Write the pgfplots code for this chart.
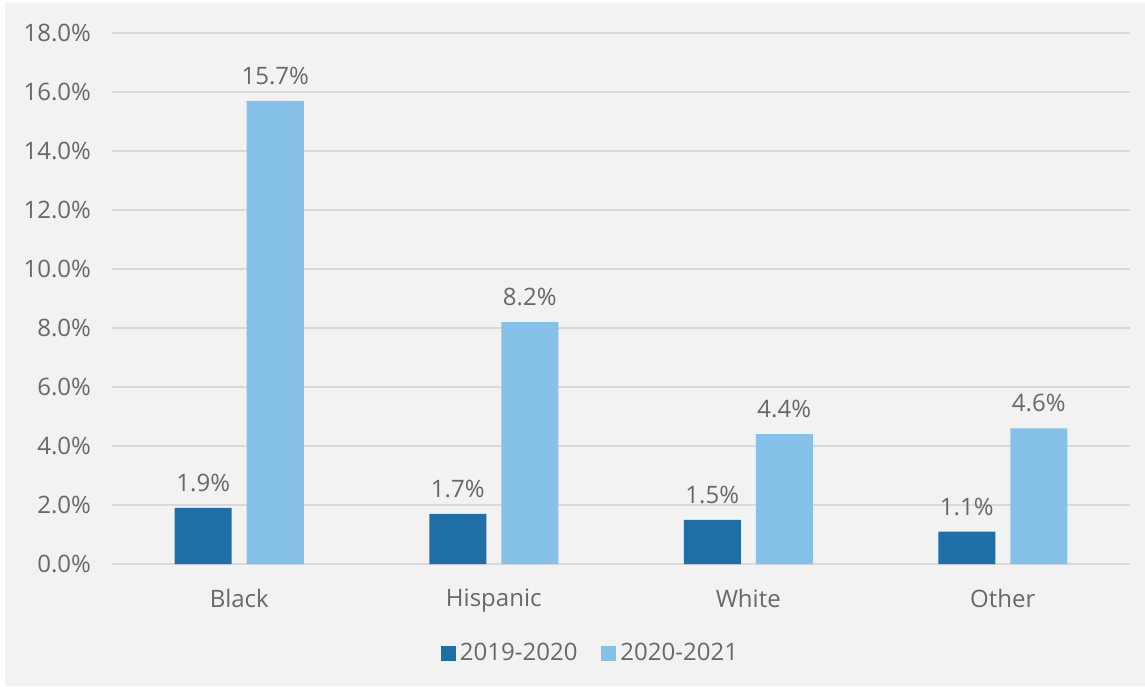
\documentclass[border=0pt]{standalone}
\usepackage{pgfplots}
\pgfplotsset{compat=1.18}
\usepackage{fontspec}
\setmainfont{Open Sans}
\definecolor{bggray}{HTML}{F2F2F2}
\definecolor{gridgray}{HTML}{D9D9D9}
\definecolor{txtgray}{HTML}{686868}
\definecolor{darkblue}{HTML}{1F6FA7}
\definecolor{lightblue}{HTML}{86C1E9}
\begin{document}
\begin{tikzpicture}
% picture is 572.5pt x 343pt; axis box south west at px (112,564)
\fill[white] (-56pt,-61pt) rectangle (516.5pt,282pt);
\fill[bggray] (-53.5pt,-61pt) rectangle (516.5pt,280.5pt);
\useasboundingbox (-56pt,-61pt) rectangle (516.5pt,282pt);
\begin{axis}[
  at={(0,0)}, anchor=south west,
  scale only axis,
  width=509pt, height=265.5pt,
  xmin=-0.5, xmax=3.5,
  ymin=0, ymax=18,
  ytick={0,2,...,18},
  xtick={0,1,2,3},
  xticklabels={Black,Hispanic,White,Other},
  ybar=7.5pt,
  bar width=28.5pt,
  axis line style={draw=none},
  axis x line*=bottom,
  axis y line*=left,
  major tick length=0pt,
  ymajorgrids,
  grid style={gridgray, line width=0.8pt},
  font=\fontsize{12}{14}\selectfont,
  tick label style={txtgray, font=\fontsize{12}{14}\selectfont},
  /pgf/number format/assume math mode=true,
  yticklabel={\pgfmathprintnumber[fixed,fixed zerofill,precision=1]{\tick}\%},
  yticklabel style={xshift=-7pt},
  xticklabel style={yshift=-9pt},
  nodes near coords={\pgfmathprintnumber[fixed,fixed zerofill,precision=1]{\pgfplotspointmeta}\%},
  every node near coord/.append style={txtgray, font=\fontsize{12}{14}\selectfont, yshift=4.5pt},
  legend style={at={(0.471,-0.169)}, anchor=center, draw=none, fill=none,
    legend columns=2, font=\fontsize{12}{14}\selectfont, text=txtgray,
    /tikz/every even column/.append style={column sep=10pt}},
  legend image code/.code={\fill[#1] (-1.5pt,-3.75pt) rectangle (6pt,3.75pt);},
  clip=false,
]
\addplot[fill=darkblue, draw=none] coordinates {(0,1.9) (1,1.7) (2,1.5) (3,1.1)};
\addplot[fill=lightblue, draw=none] coordinates {(0,15.7) (1,8.2) (2,4.4) (3,4.6)};
\legend{2019-2020,2020-2021}
\end{axis}
\end{tikzpicture}
\end{document}
